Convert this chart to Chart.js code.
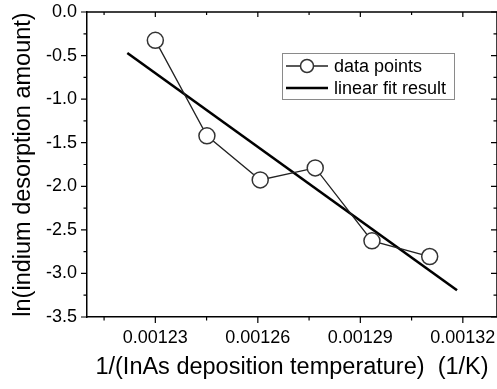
<!DOCTYPE html>
<html>
<head>
<meta charset="utf-8">
<script src="https://cdn.jsdelivr.net/npm/chart.js@4.4.0/dist/chart.umd.min.js"></script>
<style>
  body { margin: 0; background: #fff; }
  #wrap { width: 497px; height: 389px; position: relative; }
</style>
</head>
<body>
<div id="wrap"><canvas id="myChart"></canvas></div>
<script>
// data
var xData = [0.00123, 0.0012451, 0.0012607, 0.0012768, 0.0012934, 0.0013103];
var yData = [-0.325, -1.421, -1.927, -1.789, -2.626, -2.806];
var fitX = [0.0012218, 0.0013183];
var fitY = [-0.470, -3.193];

// ticks
var xMajor = [0.00123, 0.00126, 0.00129, 0.00132];
var xMinor = [0.001215, 0.001245, 0.001275, 0.001305];
var xLabels = ["0.00123", "0.00126", "0.00129", "0.00132"];
var yMajor = [0, -0.5, -1, -1.5, -2, -2.5, -3, -3.5];
var yMinor = [-0.25, -0.75, -1.25, -1.75, -2.25, -2.75, -3.25];
var yLabels = ["0.0", "-0.5", "-1.0", "-1.5", "-2.0", "-2.5", "-3.0", "-3.5"];

var seriesNames = ["data points", "linear fit result"];

var fontFam = "'Liberation Sans', Arial, sans-serif";

//Rahmen + Ticks (Origin-Stil)
var frameTicks = {
    id: 'frameTicks',
    afterDraw: function (chart) {
        var ctx = chart.ctx;
        var a = chart.chartArea;
        var xs = chart.scales.x;
        var ys = chart.scales.y;
        ctx.save();
        ctx.strokeStyle = '#000';
        ctx.lineWidth = 1.5;
        ctx.beginPath();
        ctx.moveTo(a.left, a.top);
        ctx.lineTo(a.right, a.top);
        ctx.lineTo(a.right, a.bottom);
        ctx.stroke();
        ctx.lineWidth = 1.2;
        ctx.beginPath();
        xMajor.forEach(function (v) {
            var px = xs.getPixelForValue(v);
            ctx.moveTo(px, a.bottom); ctx.lineTo(px, a.bottom + 6);
            ctx.moveTo(px, a.top); ctx.lineTo(px, a.top + 5);
        });
        xMinor.forEach(function (v) {
            var px = xs.getPixelForValue(v);
            ctx.moveTo(px, a.bottom); ctx.lineTo(px, a.bottom + 3.5);
            ctx.moveTo(px, a.top); ctx.lineTo(px, a.top + 3);
        });
        yMajor.forEach(function (v) {
            var py = ys.getPixelForValue(v);
            ctx.moveTo(a.left, py); ctx.lineTo(a.left - 6, py);
            ctx.moveTo(a.right, py); ctx.lineTo(a.right - 6, py);
        });
        yMinor.forEach(function (v) {
            var py = ys.getPixelForValue(v);
            ctx.moveTo(a.left, py); ctx.lineTo(a.left - 3.5, py);
            ctx.moveTo(a.right, py); ctx.lineTo(a.right - 3.5, py);
        });
        ctx.stroke();
        ctx.restore();
    }
};

//Legende im Diagramm
var boxLegend = {
    id: 'boxLegend',
    afterDraw: function (chart) {
        var ctx = chart.ctx;
        var ds = chart.data.datasets;
        var bx = 282, by = 53, bw = 172, bh = 46;
        ctx.save();
        ctx.strokeStyle = '#8a8a8a';
        ctx.lineWidth = 1;
        ctx.strokeRect(bx + 0.5, by + 0.5, bw, bh);
        ctx.font = '18px ' + fontFam;
        ctx.textBaseline = 'middle';
        ctx.fillStyle = '#000';
        for (var i = 0; i < ds.length; i++) {
            var y = by + 13 + i * 22;
            ctx.strokeStyle = ds[i].borderColor;
            ctx.lineWidth = ds[i].borderWidth;
            ctx.beginPath();
            ctx.moveTo(286, y);
            ctx.lineTo(328, y);
            ctx.stroke();
            if (ds[i].pointRadius > 0) {
                ctx.beginPath();
                ctx.arc(307, y, 6.5, 0, Math.PI * 2);
                ctx.fillStyle = '#fff';
                ctx.fill();
                ctx.lineWidth = ds[i].pointBorderWidth;
                ctx.strokeStyle = ds[i].pointBorderColor;
                ctx.stroke();
                ctx.fillStyle = '#000';
            }
            ctx.fillText(ds[i].label, 334, y + 1);
        }
        ctx.restore();
    }
};

var canvas = document.getElementById('myChart');
var myChart = new Chart(canvas, {
    type: 'scatter',
    data: {
        datasets: [{
            label: seriesNames[0],
            data: xData.map(function (x, i) { return { x: x, y: yData[i] }; }),
            showLine: true,
            borderColor: '#222',
            borderWidth: 1.3,
            pointRadius: 8,
            pointHoverRadius: 8,
            pointBackgroundColor: '#fff',
            pointBorderColor: '#333',
            pointBorderWidth: 1.5,
            order: 0
        }, {
            label: seriesNames[1],
            data: fitX.map(function (x, i) { return { x: x, y: fitY[i] }; }),
            showLine: true,
            borderColor: '#000',
            borderWidth: 2.6,
            pointRadius: 0,
            order: 1
        }]
    },
    options: {
        animation: false,
        responsive: true,
        maintainAspectRatio: false,
        layout: { autoPadding: false, padding: { top: 12, right: 0, left: 0, bottom: 0 } },
        plugins: {
            legend: { display: false },
            tooltip: { enabled: false }
        },
        scales: {
            x: {
                type: 'linear',
                min: 0.00121,
                max: 0.00133,
                afterBuildTicks: function (scale) {
                    scale.ticks = xMajor.map(function (v) { return { value: v }; });
                },
                afterFit: function (scale) {
                    scale.height = 72;
                    scale.paddingLeft = 0;
                    scale.paddingRight = 0;
                },
                grid: { drawOnChartArea: false, color: 'rgba(0,0,0,0)', tickLength: 6 },
                border: { display: true, color: '#000', width: 1.5 },
                ticks: {
                    autoSkip: false,
                    maxRotation: 0,
                    padding: 4,
                    color: '#000',
                    font: { family: fontFam, size: 18 },
                    callback: function (v, i) { return xLabels[i]; }
                },
                title: {
                    display: true,
                    text: '1/(InAs deposition temperature)  (1/K)',
                    color: '#000',
                    font: { family: fontFam, size: 23.5 },
                    padding: { top: 0, bottom: 7 }
                }
            },
            y: {
                type: 'linear',
                min: -3.5,
                max: 0,
                afterBuildTicks: function (scale) {
                    scale.ticks = yMajor.map(function (v) { return { value: v }; });
                },
                afterFit: function (scale) {
                    scale.width = 87;
                    scale.paddingTop = 0;
                    scale.paddingBottom = 0;
                },
                grid: { drawOnChartArea: false, color: 'rgba(0,0,0,0)', tickLength: 6 },
                border: { display: true, color: '#000', width: 1.5 },
                ticks: {
                    autoSkip: false,
                    padding: 4,
                    color: '#000',
                    font: { family: fontFam, size: 18 },
                    callback: function (v, i) { return yLabels[i]; }
                },
                title: {
                    display: true,
                    text: 'ln(indium desorption amount)',
                    color: '#000',
                    font: { family: fontFam, size: 23.5 },
                    padding: { top: 9, bottom: 0 }
                }
            }
        }
    },
    plugins: [frameTicks, boxLegend]
});
</script>
</body>
</html>
